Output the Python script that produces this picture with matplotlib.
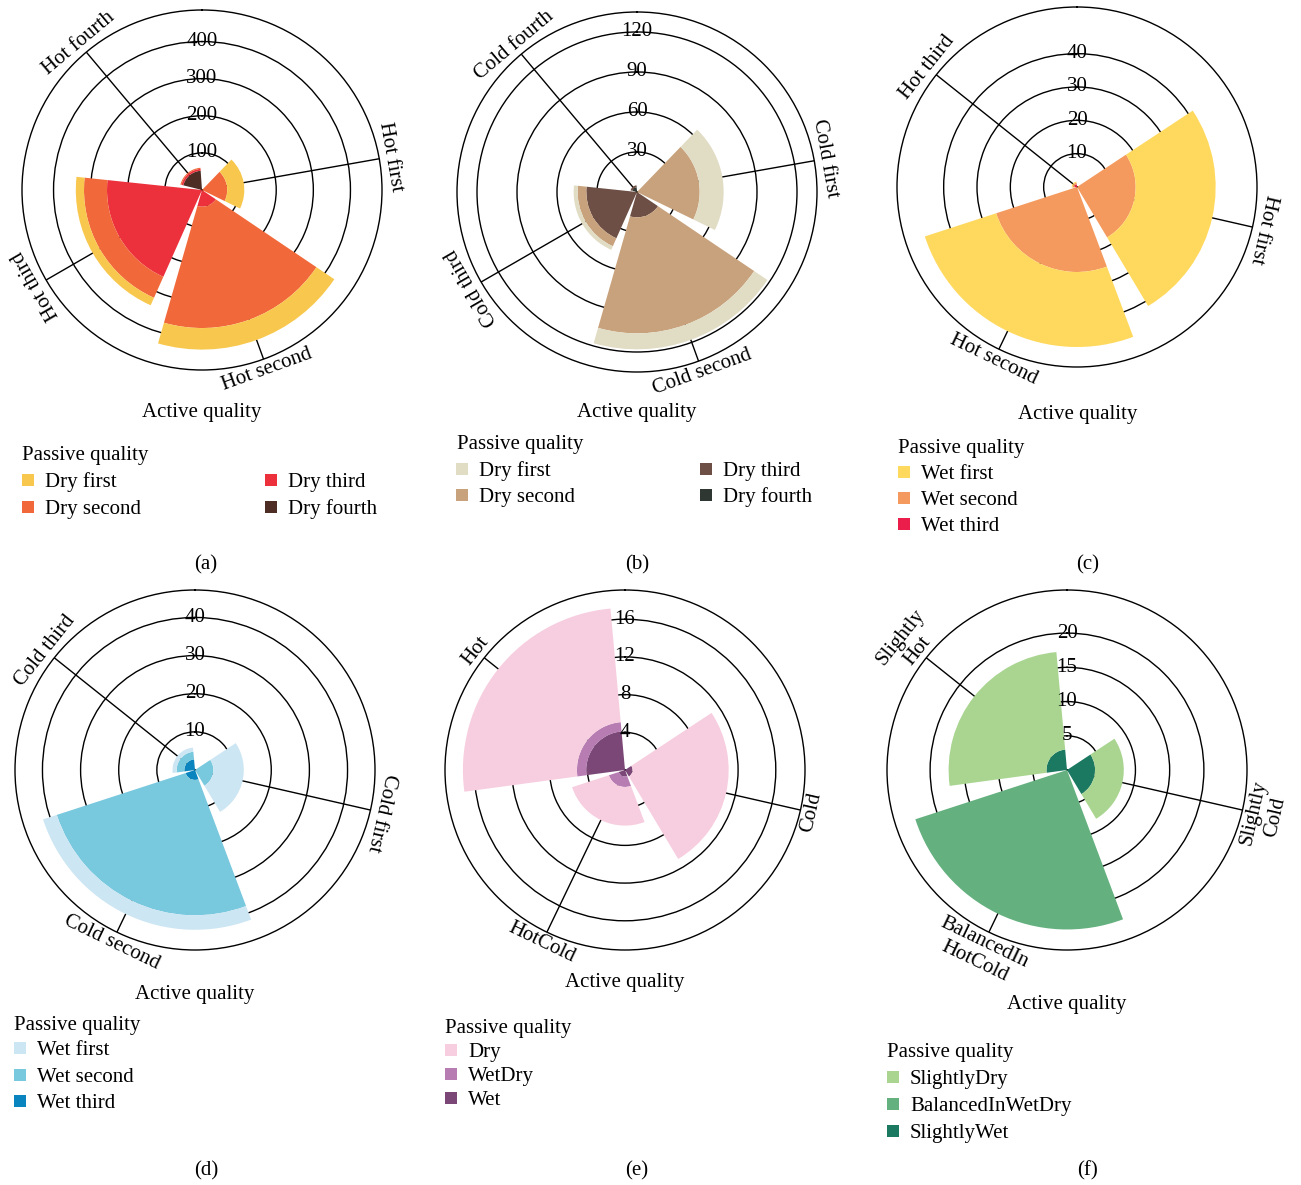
import numpy as np
import matplotlib
matplotlib.use("Agg")
import matplotlib.pyplot as plt
from matplotlib.patches import Rectangle

plt.rcParams['font.family'] = ['Liberation Serif', 'DejaVu Serif']

# ---------------- data ----------------
# (a)
A_active = ["Hot first", "Hot second", "Hot third", "Hot fourth"]
A_passive = ["Dry first", "Dry second", "Dry third", "Dry fourth"]
A_dry_first = [46, 58, 22, 0]
A_dry_second = [68, 327, 62, 3]
A_dry_third = [0, 45, 256, 5]
A_dry_fourth = [0, 0, 0, 52]
A_ticks = [100, 200, 300, 400]

# (b)
B_active = ["Cold first", "Cold second", "Cold third", "Cold fourth"]
B_passive = ["Dry first", "Dry second", "Dry third", "Dry fourth"]
B_dry_first = [18, 12, 3, 0]
B_dry_second = [47, 87, 6.5, 0]
B_dry_third = [0, 19, 38, 1.5]
B_dry_fourth = [0, 0, 0, 3.5]
B_ticks = [30, 60, 90, 120]

# (c)
C_active = ["Hot first", "Hot second", "Hot third"]
C_passive = ["Wet first", "Wet second", "Wet third"]
C_wet_first = [24, 22.5, 0.3]
C_wet_second = [17.6, 25.5, 0.5]
C_wet_third = [0, 0, 0.8]
C_ticks = [10, 20, 30, 40]

# (d)
D_active = ["Cold first", "Cold second", "Cold third"]
D_passive = ["Wet first", "Wet second", "Wet third"]
D_wet_first = [8.0, 3.8, 1.1]
D_wet_second = [4.8, 35.5, 2.0]
D_wet_third = [0, 2.6, 2.8]
D_ticks = [10, 20, 30, 40]

# (e)
E_active = ["Cold", "HotCold", "Hot"]
E_passive = ["Dry", "WetDry", "Wet"]
E_dry = [10.2, 4.1, 12.1]
E_wetdry = [0, 1.1, 1.0]
E_wet = [0.8, 0.7, 4.1]
E_ticks = [4, 8, 12, 16]

# (f)
F_active = ["Slightly\nCold", "BalancedIn\nHotCold", "Slightly\nHot"]
F_passive = ["SlightlyDry", "BalancedInWetDry", "SlightlyWet"]
F_slightly_dry = [4.2, 0, 14.3]
F_balanced = [0, 23.3, 0]
F_slightly_wet = [4.1, 0, 3.0]
F_ticks = [5, 10, 15, 20]

# ---------------- layout / style ----------------
W, H = 1301, 1185
FS = 15
R = 180

panels = [
    dict(tag="(a)", cats=A_active, names=A_passive,
         vals=[A_dry_first, A_dry_second, A_dry_third, A_dry_fourth],
         colors=["#F8C84E", "#F1693A", "#EC303C", "#4E2D25"],
         ticks=A_ticks, rmax=485, center=(202, 190), flip=[False, True, False, False],
         xlab=(202, 413), ltitle=(22, 453),
         litems=[(22, 480), (22, 507), (265, 480), (265, 507)], tagpos=(206, 565)),
    dict(tag="(b)", cats=B_active, names=B_passive,
         vals=[B_dry_first, B_dry_second, B_dry_third, B_dry_fourth],
         colors=["#E1DCC4", "#C8A27C", "#6D4F45", "#2E3731"],
         ticks=B_ticks, rmax=135, center=(637, 192), flip=[False, True, False, False],
         xlab=(637, 413), ltitle=(457, 442),
         litems=[(456, 469), (456, 495), (700, 469), (700, 495)], tagpos=(637, 565)),
    dict(tag="(c)", cats=C_active, names=C_passive,
         vals=[C_wet_first, C_wet_second, C_wet_third],
         colors=["#FFD95E", "#F59A5E", "#EB1E4B"],
         ticks=C_ticks, rmax=54, center=(1077, 187), flip=[False, True, False],
         xlab=(1078, 414), ltitle=(898, 446),
         litems=[(898, 472), (898, 498), (898, 524)], tagpos=(1088, 565)),
    dict(tag="(d)", cats=D_active, names=D_passive,
         vals=[D_wet_first, D_wet_second, D_wet_third],
         colors=["#CDE6F3", "#78C8DE", "#0A84BE"],
         ticks=D_ticks, rmax=47.2, center=(195, 770), flip=[False, True, False],
         xlab=(195, 994), ltitle=(14, 1023),
         litems=[(14, 1048), (14, 1075), (14, 1101)], tagpos=(206, 1171)),
    dict(tag="(e)", cats=E_active, names=E_passive,
         vals=[E_dry, E_wetdry, E_wet],
         colors=["#F7CEDF", "#B77DB3", "#7A4777"],
         ticks=E_ticks, rmax=19.1, center=(625, 770), flip=[True, True, False],
         xlab=(625, 983), ltitle=(445, 1026),
         litems=[(445, 1050), (445, 1074), (445, 1098)], tagpos=(637, 1171)),
    dict(tag="(f)", cats=F_active, names=F_passive,
         vals=[F_slightly_dry, F_balanced, F_slightly_wet],
         colors=["#A9D591", "#64B07E", "#1B7861"],
         ticks=F_ticks, rmax=26.3, center=(1067, 770), flip=[True, True, False],
         xlab=(1067, 1005), ltitle=(887, 1050),
         litems=[(887, 1077), (887, 1104), (887, 1131)], tagpos=(1088, 1171)),
]

fig = plt.figure(figsize=(W / 100, H / 100), dpi=100)


def fx(x):
    return x / W


def fy(y):
    return 1 - y / H


for p in panels:
    cx, cy = p["center"]
    ax = fig.add_axes([fx(cx - R), fy(cy + R), 2 * R / W, 2 * R / H], projection="polar")
    ax.set_theta_zero_location("N")
    ax.set_theta_direction(-1)
    n = len(p["cats"])
    slot = 2 * np.pi / (n + 0.5)
    theta = slot * (np.arange(n) + 1)
    bottom = np.zeros(n)
    for vals, color in reversed(list(zip(p["vals"], p["colors"]))):
        v = np.asarray(vals, dtype=float)
        ax.bar(theta, v, width=0.9 * slot, bottom=bottom, color=color,
               linewidth=0, align="center", zorder=2)
        bottom = bottom + v
    ax.set_rorigin(0)
    ax.set_ylim(0, p["rmax"])
    ax.set_yticks(p["ticks"])
    ax.set_yticklabels([])
    ax.set_xticks(theta)
    ax.set_xticklabels([])
    ax.tick_params(length=0)
    ax.grid(True, color="black", linewidth=1.0)
    ax.set_axisbelow(True)
    ax.spines["polar"].set_color("black")
    ax.spines["polar"].set_linewidth(1.0)
    for t in p["ticks"]:
        ax.text(0, t, f"{t}", ha="center", va="center", fontsize=FS, zorder=6)
    for th, lab, flip in zip(theta, p["cats"], p["flip"]):
        deg = np.degrees(th)
        if flip:
            rot, va = 180 - deg, "top"
        else:
            rot, va = -deg, "bottom"
        ax.text(th, p["rmax"] * 1.01, lab, rotation=rot, rotation_mode="anchor",
                ha="center", va=va, fontsize=FS, multialignment="center",
                linespacing=1.2)

    fig.text(fx(p["xlab"][0]), fy(p["xlab"][1]), "Active quality",
             ha="center", va="center", fontsize=FS)
    fig.text(fx(p["ltitle"][0]), fy(p["ltitle"][1]), "Passive quality",
             ha="left", va="center_baseline", fontsize=FS)
    for (lx, ly), name, color in zip(p["litems"], p["names"], p["colors"]):
        fig.add_artist(Rectangle((fx(lx), fy(ly + 6)), 12 / W, 12 / H,
                                 transform=fig.transFigure, facecolor=color,
                                 edgecolor="none"))
        fig.text(fx(lx + 23), fy(ly), name, ha="left", va="center_baseline", fontsize=FS)
    fig.text(fx(p["tagpos"][0]), fy(p["tagpos"][1]), p["tag"],
             ha="center", va="center", fontsize=FS)

fig.savefig("out.png", dpi=100)
